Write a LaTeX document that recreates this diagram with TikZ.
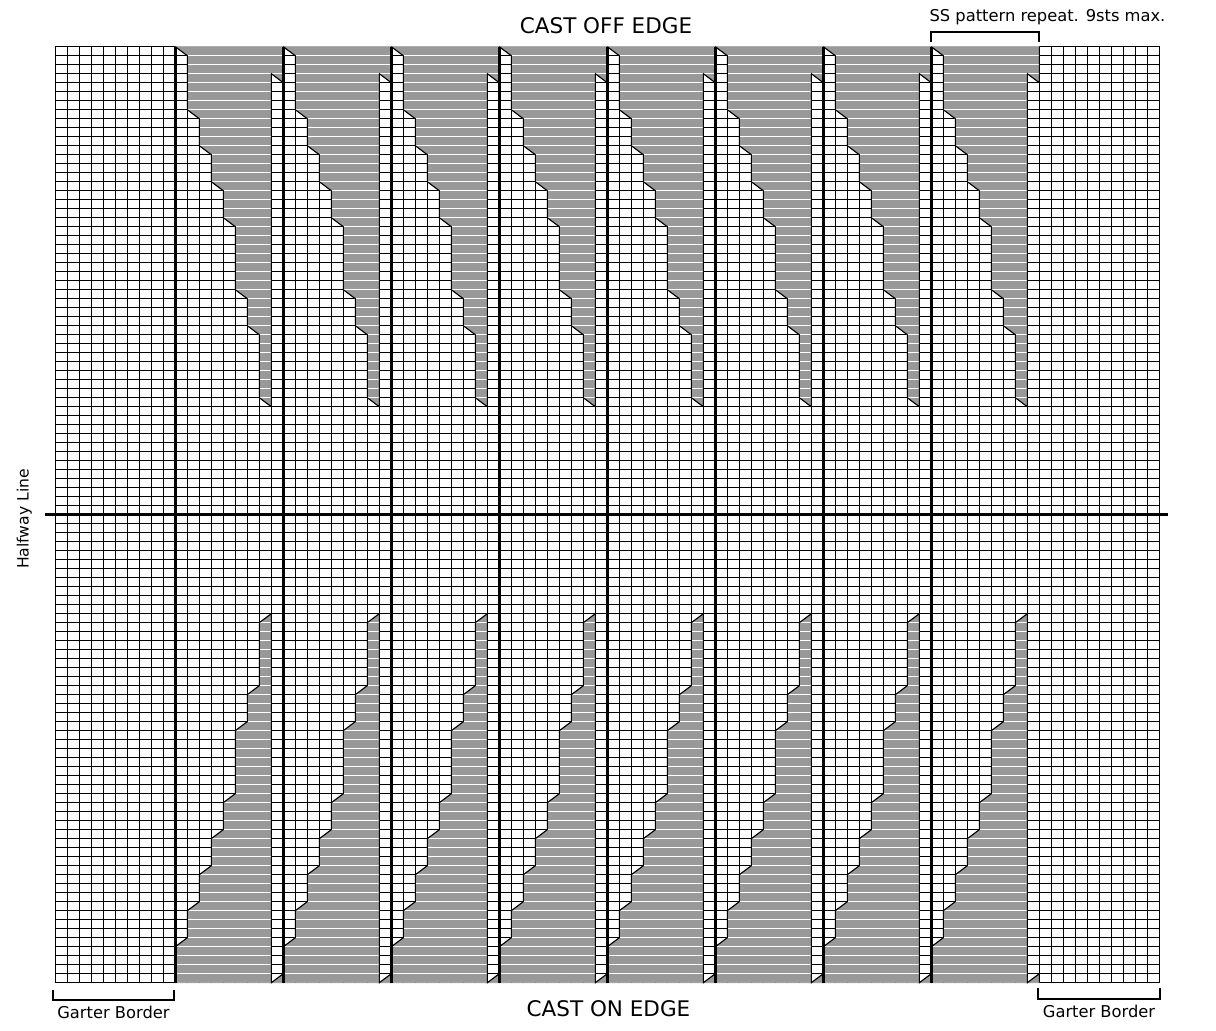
\documentclass[tikz,border=0pt]{standalone}
\usepackage{fontspec}
\setmainfont{DejaVu Sans}
\definecolor{ssgray}{RGB}{153,153,153}
\begin{document}
\begin{tikzpicture}[x=1pt,y=-1pt,
  gridline/.style={black,line width=1.1pt},
  whiteline/.style={white,line width=1pt},
  thickline/.style={black,line width=3pt},
  bracket/.style={black,line width=2pt},
  wedge/.style={fill=ssgray,draw=ssgray,line width=0.6pt},
  bigtxt/.style={inner sep=0pt,font=\fontsize{21.5}{24}\selectfont},
  smalltxt/.style={inner sep=0pt,font=\fontsize{16.3}{18}\selectfont}]
\path[use as bounding box, fill=white] (0,0) rectangle (1216,1031);

% base grid (cell units: 12pt wide, 9pt high)
\begin{scope}[xshift=55.3pt, yshift=-46.7pt, x=12pt, y=-9pt]
  \foreach \j in {0,...,92} \draw[gridline] (\j,0) -- (\j,104);
  \foreach \k in {1,...,103} \draw[gridline] (0,\k) -- (92,\k);
  \draw[gridline] (0,0) rectangle (10,104);
  \draw[gridline] (82,0) rectangle (92,104);
\end{scope}

% pattern repeats
\foreach \i in {0,...,7} {
  \pgfmathsetmacro{\xl}{175.3+108*\i}
  \begin{scope}[xshift=\xl pt, yshift=-46.7pt, x=12pt, y=-9pt]
    % top half short-row wedge
    \path[wedge] (0,0) -- (1,1) -- (1,7) -- (2,8) -- (2,11) -- (3,12) -- (3,15) -- (4,16)
      -- (4,19) -- (5,20) -- (5,27) -- (6,28) -- (6,31) -- (7,32) -- (7,39) -- (8,40)
      -- (8,3) -- (9,4) -- (9,0) -- cycle;
    \begin{scope}
      \clip (0,0) -- (1,1) -- (1,7) -- (2,8) -- (2,11) -- (3,12) -- (3,15) -- (4,16)
        -- (4,19) -- (5,20) -- (5,27) -- (6,28) -- (6,31) -- (7,32) -- (7,39) -- (8,40)
        -- (8,3) -- (9,4) -- (9,0) -- cycle;
      \foreach \k in {1,...,51} \draw[whiteline] (0,\k) -- (9,\k);
    \end{scope}
    \draw[gridline] (0,0) -- (1,1) -- (1,7) -- (2,8) -- (2,11) -- (3,12) -- (3,15) -- (4,16)
      -- (4,19) -- (5,20) -- (5,27) -- (6,28) -- (6,31) -- (7,32) -- (7,39) -- (8,40)
      -- (8,3) -- (9,4) -- (9,0);
    % bottom half short-row wedge
    \path[wedge] (0,104) -- (0,100) -- (1,99) -- (1,96) -- (2,95) -- (2,92) -- (3,91)
      -- (3,88) -- (4,87) -- (4,84) -- (5,83) -- (5,76) -- (6,75) -- (6,72) -- (7,71)
      -- (7,64) -- (8,63) -- (8,104) -- (9,103) -- (9,104) -- cycle;
    \begin{scope}
      \clip (0,104) -- (0,100) -- (1,99) -- (1,96) -- (2,95) -- (2,92) -- (3,91)
        -- (3,88) -- (4,87) -- (4,84) -- (5,83) -- (5,76) -- (6,75) -- (6,72) -- (7,71)
        -- (7,64) -- (8,63) -- (8,104) -- (9,103) -- (9,104) -- cycle;
      \foreach \k in {53,...,103} \draw[whiteline] (0,\k) -- (9,\k);
    \end{scope}
    \draw[gridline] (0,104) -- (0,100) -- (1,99) -- (1,96) -- (2,95) -- (2,92) -- (3,91)
      -- (3,88) -- (4,87) -- (4,84) -- (5,83) -- (5,76) -- (6,75) -- (6,72) -- (7,71)
      -- (7,64) -- (8,63) -- (8,104) -- (9,103) -- (9,104);
  \end{scope}
}

% thick repeat dividers
\foreach \i in {0,...,7} {
  \pgfmathsetmacro{\xl}{175.3+108*\i}
  \draw[thickline] (\xl,46.7) -- (\xl,982.7);
}
% halfway line
\draw[thickline] (45,514.7) -- (1168,514.7);

% brackets
\draw[bracket] (931.3,41.7) -- (931.3,32.3) -- (1038.8,32.3) -- (1038.8,41.7);
\draw[bracket] (52.5,990) -- (52.5,999.5) -- (174.3,999.5) -- (174.3,990);
\draw[bracket] (1038.3,988) -- (1038.3,998.5) -- (1160.3,998.5) -- (1160.3,988);

% labels
\node[bigtxt, anchor=base] (castoff) at (606,33.5) {CAST OFF EDGE};
\node[bigtxt, anchor=base] (caston) at (608.5,1016.5) {CAST ON EDGE};
\node[smalltxt, anchor=base] (ssrep) at (1047.5,21) {SS pattern repeat. 9sts max.};
\node[smalltxt, anchor=base] (garterl) at (113.5,1018.5) {Garter Border};
\node[smalltxt, anchor=base] (garterr) at (1099,1017.3) {Garter Border};
\node[inner sep=0pt, font=\fontsize{15.6}{18}\selectfont, rotate=90, anchor=base] (halfway) at (28.5,519) {Halfway Line};
\end{tikzpicture}
\end{document}
